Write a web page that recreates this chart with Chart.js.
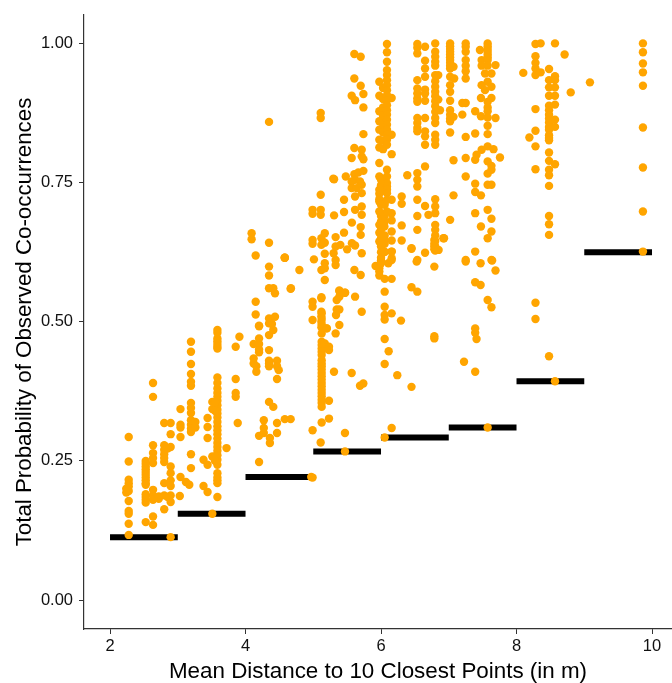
<!DOCTYPE html>
<html><head><meta charset="utf-8">
<script src="https://cdn.jsdelivr.net/npm/chart.js@4"></script>
<style>html,body{margin:0;padding:0;background:#fff}#w{width:672px;height:683px}canvas{display:block}</style>
</head><body><div id="w"><canvas id="c" width="672" height="683"></canvas></div>
<script>
const xTicks=[2,4,6,8,10];
const yTicks=[0,0.25,0.5,0.75,1];
const binStart=[2,3,4,5,6,7,8,9];
const binEnd=[3,4,5,6,7,8,9,10];
const binMin=[0.113,0.155,0.221,0.267,0.292,0.31,0.393,0.625];
// each entry: distance, then observed probabilities at that distance
const dist2to3=[
[2.276,[.293,.249,.216,.21,.204,.196,.178,.16,.155,.137,.117]],[2.24,[.193,.2]],
[2.527,[.25,.245,.24,.235,.23,.225,.22,.215,.21,.207,.19,.185,.18,.175,.14]],
[2.635,[.39,.365,.278,.264,.255,.246,.198,.188,.18,.15,.135]],
[2.72,[.182,.186]],
[2.80,[.318,.278,.27,.262,.255,.248,.21,.188,.163]],
[2.895,[.318,.298,.275,.24,.228,.215,.205,.188,.176,.113]],
[2.85,[.272,.185]]];
const dist3to4=[
[3.04,[.343,.315,.31,.293,.221]],[3.03,[.187]],[3.12,[.212]],[3.17,[.207]],
[3.195,[.464,.446,.424,.406,.392,.385,.354,.345,.336,.323,.315,.308,.302,.262,.237]],[3.26,[.32,.31]],
[3.38,[.252,.205]],[3.44,[.243,.194]],[3.44,[.327,.311,.291]],[3.51,[.155,.356,.343,.258]],
[3.585,[.485,.48,.47,.465,.46,.455,.452,.40,.39,.38,.372,.365,.358,.35,.342,.335,.328,.32,.312,.305,.298,.29,.282,.275,.268,.26,.252,.243,.228,.22,.215,.21,.185]],
[3.55,[.355,.34,.258,.25]],[3.72,[.273]],[3.855,[.397,.372,.365,.455]],[3.885,[.318]],[3.91,[.473]]];
const dist4to5=[
[4.09,[.659,.648]],[4.15,[.619,.536,.513]],[4.2,[.492,.493,.47,.46,.45,.445]],[4.12,[.46,.434,.425]],[4.16,[.42,.41]],
[4.2,[.295,.248]],[4.347,[.859,.642,.599,.583,.56,.506,.497,.476,.449,.43,.425,.42,.356]],[4.41,[.56,.485,.347]],[4.435,[.551,.509]],
[4.39,[.496]],[4.465,[.43,.42,.397,.318,.3]],[4.49,[.413]],[4.58,[.615,.325,.615]],[4.27,[.323,.309,.3]],[4.36,[.291,.282]],[4.67,[.56]],[4.666,[.559,.325]],[4.795,[.593]],[4.578,[.615]],
[4.99,[.701,.694,.647,.64,.536,.527,.503,.305,.22]],[4.97,[.221]]];
const dist5to6=[
[5.01,[.612]],[5.11,[.875,.866,.728,.701,.692]],[5.12,[.65,.638,.593,.544,.542,.518,.51,.5,.49]],
[5.124,[.515,.505,.495,.479,.464,.458,.452,.446,.44,.431,.425,.42,.414,.408,.402,.396,.39,.384,.378,.372,.366,.36,.354,.347,.319]],
[5.17,[.659,.642,.622,.605,.596,.575,.461]],[5.2,[.488]],[5.232,[.455,.449,.358,.326]],[5.109,[.283]],[5.198,[.488]],
[5.307,[.756,.691]],[5.296,[.757]],[5.33,[.652,.635,.611,.602,.479]],[5.30,[.623]],[5.346,[.539,.522]],[5.385,[.556,.545,.522,.494,.555]],[5.336,[.512]],[5.306,[.41]],
[5.4,[.638]],[5.454,[.719,.697,.66]],[5.48,[.761]],[5.5,[.63]],[5.47,[.552]],[5.468,[.3,.267,.552]],[5.57,[.678,.641]],[5.567,[.906,.794,.752,.74,.408]],
[5.606,[.981,.937,.812]],[5.607,[.765,.593]],[5.617,[.898,.755,.725,.701,.637,.545]],[5.64,[.74]],[5.665,[.768]],[5.69,[.752,.385]],[5.70,[.976,.924,.67,.656,.584]],[5.715,[.809,.797,.746,.731,.707,.692,.623,.518]],[5.74,[.885,.837,.909,.792,.771]],[5.739,[.389]],
[5.975,[.931,.906,.878,.86,.845,.827,.813,.785,.761,.737,.73,.72,.716,.698,.674,.66,.644,.602,.596,.59,.583]],
[5.92,[.6]],[6.0,[.755,.745,.735,.71,.69,.68,.665,.65,.635,.625,.615,.61,.605]],[6.03,[.92,.9,.885,.87,.855,.84,.825,.81]]];
const dist6to7=[
[6.054,[.71,.69,.68,.655,.64,.625,.577,.554,.527,.512,.504,.469,.424,.292]],[6.113,[.447]],[6.108,[.605]],[6.157,[.626,.614,.577,.515,.309,.902,.836,.801,.719,.695,.682,.662,.646,.626,.611]],
[6.088,[.999,.984,.967,.952,.943,.934,.925,.916,.907,.898,.889,.88,.872,.863,.854,.845,.836,.827,.818,.773,.761,.749,.743,.737,.731,.719,.698]],
[6.05,[.671,.646,.626]],[6.24,[.404]],[6.305,[.725,.712,.673,.646]],[6.295,[.502]],[6.388,[.763]],[6.45,[.632,.562,.631,.383]],
[6.536,[.999,.992,.982,.934,.919,.91,.901,.895,.866,.857,.848,.842,.767,.755,.743,.719,.69,.665,.611,.554]],[6.526,[.608]],
[6.65,[.994,.969,.955,.94,.917,.91,.897,.866,.842,.833,.818,.779,.708,.624]],[6.70,[.692]],
[6.80,[1,.985,.976,.967,.96,.943,.932,.922,.913,.905,.896,.887,.877,.866,.857,.836,.827,.818,.72,.707,.695,.674,.665,.655,.645,.635,.628]],[6.845,[.943,.899]],[6.87,[.88]],[6.787,[.647,.64,.635,.63,.599,.474,.47]],[6.85,[.629]],[6.92,[.65]],[6.93,[.65]]];
const dist7to8=[
[7.02,[1,.995,.99,.985,.98,.975,.97,.965,.96,.955,.94,.925,.913,.897,.88,.872,.865,.86,.84,.683]],[7.07,[.958,.79,.727,.868]],[7.08,[.937]],
[7.25,[1,.994,.985,.97,.96,.95,.937,.893,.832,.794,.761,.611,.608]],[7.2,[.893,.872]],[7.225,[.428]],
[7.39,[.878,.838,.791,.748,.733,.695,.626,.571,.488,.48,.41]],[7.41,[.8,.469]],[7.46,[.988]],[7.47,[.605,.566]],[7.475,[.902,.869,.727,.671]],[7.485,[.97,.96,.925,.809]],
[7.535,[.946,.916]],[7.574,[1,.995,.99,.985,.98,.975,.97,.96,.931,.895,.885,.878,.867,.852,.837,.815,.788,.766,.746,.701,.65,.539,.31]],[7.63,[.946,.922,.902,.78,.773,.746,.685,.662,.611,.526]],[7.64,[.61]],[7.66,[.81]],[7.69,[.961,.866,.592]],[7.756,[.795]]];
const dist8to10=[
[8.1,[.947]],[8.19,[.831]],[8.28,[.999,.977,.965,.955,.943,.882,.843,.815,.774,.534,.505]],[8.356,[1,.948]],
[8.48,[.954,.934,.921,.906,.888,.88,.872,.865,.858,.85,.845,.835,.83,.826,.804,.789,.773,.763,.744,.69,.675,.656,.438]],
[8.568,[1,.941,.934,.921,.906,.89,.863,.85,.783,.393]],[8.71,[.98]],[8.8,[.912]],[9.084,[.93]],
[9.866,[1,.984,.964,.948,.924,.849,.777,.698,.626]]];
const groups=[dist2to3,dist3to4,dist4to5,dist5to6,dist6to7,dist7to8,dist8to10];
const points=[];
groups.forEach(g=>g.forEach(([x,ys])=>ys.forEach(y=>points.push({x,y}))));
const binLine=[];
binStart.forEach((s,i)=>{binLine.push({x:s,y:binMin[i]},{x:binEnd[i],y:binMin[i]},{x:binEnd[i],y:null});});
new Chart(document.getElementById('c'),{
 type:'scatter',
 data:{datasets:[
  {type:'line',data:binLine,borderColor:'#000',borderWidth:6,pointRadius:0,spanGaps:false,borderCapStyle:'butt',order:2,parsing:false},
  {data:points,backgroundColor:'#FFA500',borderColor:'#FFA500',pointRadius:4.2,borderWidth:0,order:1}
 ]},
 options:{responsive:false,animation:false,
  layout:{autoPadding:false,padding:{top:15,right:0,left:0,bottom:0}},
  plugins:{legend:{display:false},tooltip:{enabled:false}},
  scales:{
   x:{type:'linear',min:1.616,max:10.295,
    afterBuildTicks:s=>{s.ticks=xTicks.map(v=>({value:v}));},
    afterFit:s=>{s.height=54;s.paddingLeft=0;s.paddingRight=0;},
    border:{color:'#333',width:1.2},
    grid:{drawOnChartArea:false,drawTicks:true,tickLength:5,color:'#333'},
    ticks:{color:'#111',font:{family:'"Liberation Sans"',size:16.5},padding:3,maxRotation:0,callback:v=>String(v)},
    title:{display:true,text:'Mean Distance to 10 Closest Points (in m)',color:'#000',font:{family:'"Liberation Sans"',size:22.4},padding:{top:3,bottom:-2}}},
   y:{type:'linear',min:-0.052,max:1.051,
    afterBuildTicks:s=>{s.ticks=yTicks.map(v=>({value:v}));},
    afterFit:s=>{s.width=84;s.paddingTop=0;s.paddingBottom=0;},
    border:{color:'#333',width:1.2},
    grid:{drawOnChartArea:false,drawTicks:true,tickLength:5,color:'#333'},
    ticks:{color:'#111',font:{family:'"Liberation Sans"',size:16.5},padding:6,callback:v=>v.toFixed(2)},
    title:{display:true,text:'Total Probability of Observed Co-occurrences',color:'#000',font:{family:'"Liberation Sans"',size:22.3},padding:{top:11,bottom:0}}}
  }}
});
</script></body></html>
